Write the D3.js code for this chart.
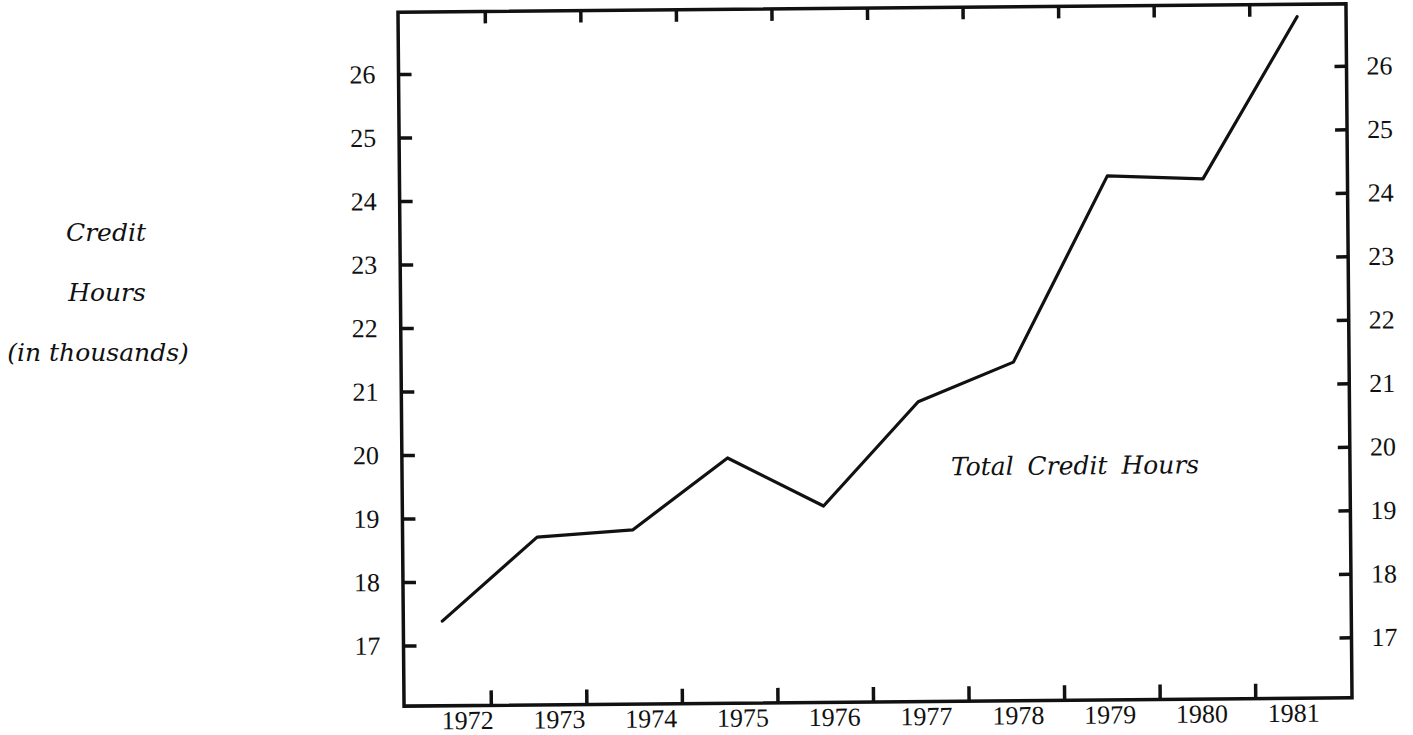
<!DOCTYPE html>
<html>
<head>
<meta charset="utf-8">
<script src="https://cdn.jsdelivr.net/npm/d3@7"></script>
<style>
  body { margin: 0; background: #fff; }
  svg { display: block; }
  .num { font-family: "Liberation Serif", serif; font-size: 26px; fill: #111; }
  .lbl { font-family: "DejaVu Serif", serif; font-style: italic; font-size: 25px; fill: #111; }
</style>
</head>
<body>
<div id="chart"></div>
<script>
// total credit hours (thousands) per year
var years = [1972, 1973, 1974, 1975, 1976, 1977, 1978, 1979, 1980, 1981]
var hours = [17.38, 18.69, 18.79, 19.91, 19.14, 20.77, 21.38, 24.30, 24.24, 26.78]
var yTicks = [17, 18, 19, 20, 21, 22, 23, 24, 25, 26]
var yAxisLines = ["Credit", "Hours", "(in thousands)"]
var seriesName = "Total Credit Hours"

var width = 1413,
  height = 735,
  plotLeft = 401, plotRight = 1349, plotTop = 8, plotBottom = 702

var svg = d3.select("#chart").append("svg")
  .attr("width", width)
  .attr("height", height)

// the original sheet is slightly skewed on the scanner
var g = svg.append("g")
  .attr("transform", "rotate(-0.5," + ((plotLeft + plotRight) / 2) + "," + ((plotTop + plotBottom) / 2) + ")")

var x = d3.scaleLinear().domain([1972, 1981]).range([440, 1300])
var xLabel = d3.scaleLinear().domain([1972, 1981]).range([464, 1290])
var y = d3.scaleLinear().domain([16.047, 26.976]).range([plotBottom, plotTop])

var gridTicks = years.slice(0, 9).map(d => d + 0.5)

g.append("g")
  .attr("transform", "translate(" + plotLeft + ",0)")
  .call(d3.axisLeft(y).tickValues(yTicks).tickSize(-13).tickPadding(23).tickFormat(d3.format("d")))
  .call(styleAxis)

g.append("g")
  .attr("transform", "translate(" + plotRight + ",0)")
  .call(d3.axisRight(y).tickValues(yTicks).tickSize(-12).tickPadding(20).tickFormat(d3.format("d")))
  .call(styleAxis)

g.append("g")
  .attr("transform", "translate(0," + plotBottom + ")")
  .call(d3.axisBottom(x).tickValues(gridTicks).tickSize(-15).tickFormat(""))
  .call(styleAxis)

g.append("g")
  .attr("transform", "translate(0," + plotTop + ")")
  .call(d3.axisTop(x).tickValues(gridTicks).tickSize(-12).tickFormat(""))
  .call(styleAxis)

g.append("g")
  .attr("transform", "translate(0," + plotBottom + ")")
  .call(d3.axisBottom(xLabel).tickValues(years).tickSize(0).tickPadding(5).tickFormat(d3.format("d")))
  .call(styleAxis)

g.append("rect")
  .attr("x", plotLeft)
  .attr("y", plotTop)
  .attr("width", plotRight - plotLeft)
  .attr("height", plotBottom - plotTop)
  .attr("fill", "none")
  .attr("stroke", "#111")
  .attr("stroke-width", 3.5)

var line = d3.line()
  .x((d, i) => x(years[i]))
  .y(d => y(d))

g.append("path")
  .datum(hours)
  .attr("d", line)
  .attr("fill", "none")
  .attr("stroke", "#111")
  .attr("stroke-width", 3.2)
  .attr("stroke-linejoin", "round")
  .attr("stroke-linecap", "round")

g.append("text")
  .attr("class", "lbl")
  .attr("x", 1074)
  .attr("y", 476)
  .attr("text-anchor", "middle")
  .attr("word-spacing", "6px")
  .text(seriesName)

var labelX = [106, 107, 98]
svg.selectAll("text.ylab")
  .data(yAxisLines)
  .enter().append("text")
    .attr("class", "lbl ylab")
    .attr("x", (d, i) => labelX[i])
    .attr("y", (d, i) => 241 + i * 60)
    .attr("text-anchor", "middle")
    .text(d => d)

function styleAxis (sel) {
  sel.select(".domain").remove()
  sel.selectAll(".tick line").attr("stroke", "#111").attr("stroke-width", 3.5)
  sel.selectAll(".tick text").attr("class", "num").attr("font-size", null).attr("font-family", null)
  sel.attr("font-size", null).attr("font-family", null)
}
</script>
</body>
</html>
